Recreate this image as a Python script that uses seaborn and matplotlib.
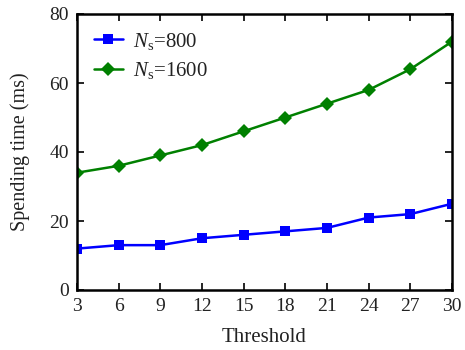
import matplotlib
matplotlib.use("Agg")
import matplotlib.pyplot as plt
import seaborn as sns
import pandas as pd

threshold = [3, 6, 9, 12, 15, 18, 21, 24, 27, 30]
ns800 = [12, 13, 13, 15, 16, 17, 18, 21, 22, 25]
ns1600 = [34, 36, 39, 42, 46, 50, 54, 58, 64, 72]
labels = [r"$N_{\mathrm{s}}$=800", r"$N_{\mathrm{s}}$=1600"]

sns.set_style("ticks")
plt.rcParams["font.family"] = ["Liberation Serif", "DejaVu Serif"]
plt.rcParams["mathtext.fontset"] = "custom"
plt.rcParams["mathtext.rm"] = "Liberation Serif"
plt.rcParams["mathtext.it"] = "Liberation Serif:italic"
plt.rcParams["text.color"] = "#222222"
plt.rcParams["axes.labelcolor"] = "#222222"
plt.rcParams["xtick.labelcolor"] = "#222222"
plt.rcParams["ytick.labelcolor"] = "#222222"

df = pd.DataFrame({"Threshold": threshold * 2,
                   "Time": ns800 + ns1600,
                   "Series": [labels[0]] * len(threshold) + [labels[1]] * len(threshold)})

fig = plt.figure(figsize=(4.65, 3.5), dpi=100)
ax = fig.add_axes([77/465, 60/350, 375/465, 276/350])
sns.lineplot(data=df, x="Threshold", y="Time", hue="Series", style="Series",
             markers=["s", "D"], dashes=False, palette=["#0000ff", "#008000"],
             markersize=7, linewidth=1.8, markeredgewidth=0, ax=ax)
ax.set_xlim(3, 30)
ax.set_ylim(0, 80)
ax.set_xticks(threshold)
ax.set_yticks([0, 20, 40, 60, 80])
ax.tick_params(direction="in", top=True, right=True, labelsize=14, length=5, width=1.2,
               pad=6, color="black")
for s in ax.spines.values():
    s.set_linewidth(1.8)
    s.set_color("black")
    s.set_visible(True)
ax.set_xlabel("Threshold", fontsize=15, labelpad=9)
ax.set_ylabel("Spending time (ms)", fontsize=14.5, labelpad=14)
leg = ax.legend(loc="upper left", frameon=False, fontsize=15, handlelength=1.4,
                borderaxespad=0.4, labelspacing=0.4, handletextpad=0.5)
fig.savefig("out.png", dpi=100)
